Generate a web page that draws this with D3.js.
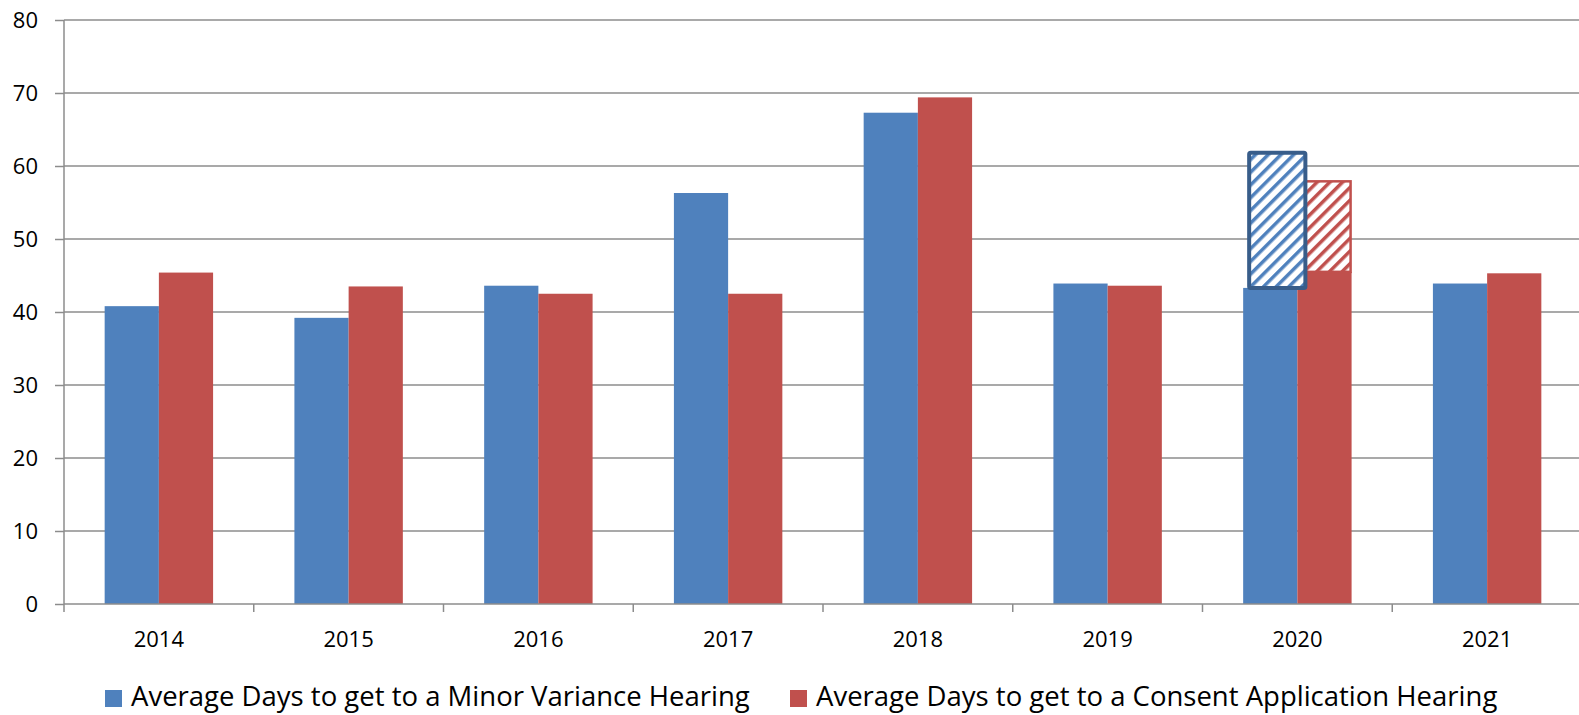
<!DOCTYPE html>
<html>
<head>
<meta charset="utf-8">
<script src="https://cdnjs.cloudflare.com/ajax/libs/d3/7.8.5/d3.min.js"></script>
<style>
  body { margin: 0; background: #fff; }
  #chart text { font-family: "Open Sans", "Liberation Sans", sans-serif; fill: #000; }
</style>
</head>
<body>
<div id="chart"></div>
<script>
const years = ["2014", "2015", "2016", "2017", "2018", "2019", "2020", "2021"];
const minorVariance = [40.8, 39.2, 43.6, 56.3, 67.3, 43.9, 43.3, 43.9];
const consentApp = [45.4, 43.5, 42.5, 42.5, 69.4, 43.6, 45.5, 45.3];
// projected part for 2020, drawn hatched on top of the solid bars
const projYears = ["2020"];
const projMinor = [61.8];
const projConsent = [57.9];
const yTicks = [0, 10, 20, 30, 40, 50, 60, 70, 80];
const seriesNames = ["Average Days to get to a Minor Variance Hearing", "Average Days to get to a Consent Application Hearing"];
const colors = ["#4F81BD", "#C0504D"];

const W = 1579, H = 715;
const margin = { top: 20, right: -3, bottom: 111, left: 64 };
const width = W - margin.left - margin.right;
const height = H - margin.top - margin.bottom;

const svg = d3.select("#chart").append("svg")
    .attr("width", W)
    .attr("height", H);

// hatch patterns
const defs = svg.append("defs");
colors.forEach((c, i) => {
    const p = defs.append("pattern")
        .attr("id", "hatch" + i)
        .attr("patternUnits", "userSpaceOnUse")
        .attr("width", 9)
        .attr("height", 9)
        .attr("patternTransform", "rotate(45)");
    p.append("rect").attr("width", 9).attr("height", 9).attr("fill", "#fff");
    p.append("rect").attr("x", 0).attr("width", 3.5).attr("height", 9).attr("fill", c);
});

const g = svg.append("g").attr("transform", `translate(${margin.left},${margin.top})`);

const x0 = d3.scaleBand().domain(years).range([0, width]).padding(0);
// Excel-like gap width 150%
const gap = x0.bandwidth() * 0.75 / 3.5;
const x1 = d3.scaleBand().domain([0, 1]).range([gap, x0.bandwidth() - gap]).padding(0);
const y = d3.scaleLinear().domain([0, 80]).range([height, 0]);

// gridlines
g.append("g")
    .selectAll("line")
    .data(yTicks.filter(d => d > 0))
    .join("line")
    .attr("x1", 0).attr("x2", width)
    .attr("y1", d => y(d)).attr("y2", d => y(d))
    .attr("stroke", "#8c8c8c").attr("stroke-width", 1.5);

// y axis
const yAxis = g.append("g")
    .call(d3.axisLeft(y).tickValues(yTicks).tickSize(9).tickPadding(17));
yAxis.select(".domain").attr("stroke", "#8c8c8c").attr("stroke-width", 1.5).attr("d", `M0,${height}V0`);
yAxis.selectAll(".tick line").attr("stroke", "#8c8c8c").attr("stroke-width", 1.5);
yAxis.selectAll("text").style("font-size", "22px");

// bars
const groups = g.append("g")
    .selectAll("g")
    .data(years)
    .join("g")
    .attr("transform", d => `translate(${x0(d)},0)`);

groups.selectAll("rect")
    .data((d, i) => [minorVariance[i], consentApp[i]])
    .join("rect")
    .attr("x", (d, i) => x1(i))
    .attr("width", x1.bandwidth())
    .attr("y", d => y(d))
    .attr("height", d => height - y(d))
    .attr("fill", (d, i) => colors[i]);

// projected hatched parts
projYears.forEach((yr, k) => {
    const i = years.indexOf(yr);
    g.append("rect")
        .attr("x", x0(yr) + x1(1) + 2)
        .attr("width", x1.bandwidth() - 3)
        .attr("y", y(projConsent[k]))
        .attr("height", y(consentApp[i]) - y(projConsent[k]))
        .attr("fill", "url(#hatch1)")
        .attr("stroke", colors[1])
        .attr("stroke-width", 2.5);
    g.append("rect")
        .attr("x", x0(yr) + x1(0) + 6)
        .attr("width", x1.bandwidth() + 2)
        .attr("y", y(projMinor[k]))
        .attr("height", y(minorVariance[i]) - y(projMinor[k]))
        .attr("fill", "url(#hatch0)")
        .attr("stroke", "#385D8A")
        .attr("stroke-width", 4)
        .attr("rx", 1.5);
});

// x axis
const xAxis = g.append("g")
    .attr("transform", `translate(0,${height})`);
xAxis.append("line")
    .attr("x1", 0).attr("x2", width)
    .attr("stroke", "#8c8c8c").attr("stroke-width", 1.5);
xAxis.selectAll(".xtick")
    .data(years.concat(["end"]))
    .join("line")
    .attr("x1", (d, i) => i * x0.step()).attr("x2", (d, i) => i * x0.step())
    .attr("y1", 0).attr("y2", 8)
    .attr("stroke", "#8c8c8c").attr("stroke-width", 1.5);
xAxis.selectAll("text")
    .data(years)
    .join("text")
    .attr("x", d => x0(d) + x0.bandwidth() / 2)
    .attr("y", 43)
    .attr("text-anchor", "middle")
    .style("font-size", "22px")
    .text(d => d);

// legend
const legend = svg.append("g").attr("transform", `translate(0,${H - 9})`);
const legX = [105, 790];
seriesNames.forEach((name, i) => {
    legend.append("rect")
        .attr("x", legX[i]).attr("y", -16)
        .attr("width", 17).attr("height", 17)
        .attr("fill", colors[i]);
    legend.append("text")
        .attr("x", legX[i] + 26).attr("y", 0)
        .style("font-size", "27.5px")
        .text(name);
});
</script>
</body>
</html>
